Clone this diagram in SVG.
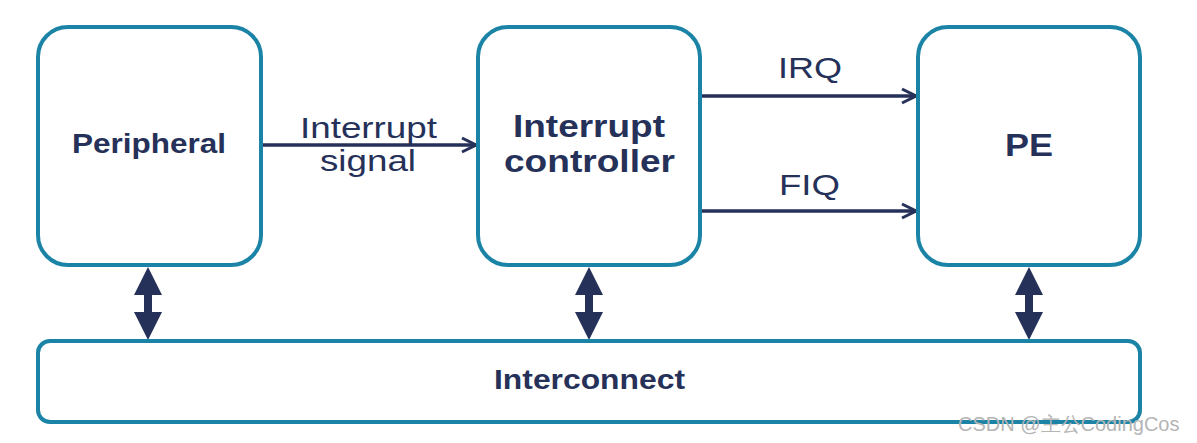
<svg xmlns="http://www.w3.org/2000/svg" width="1197" height="443" viewBox="0 0 1197 443">
<style>
.box{fill:#fff;stroke:#1b84a6;stroke-width:4}
.t{font-family:"Liberation Sans",Arial,sans-serif;fill:#263159;text-anchor:middle}
.b{font-weight:bold}
.ln{stroke:#263159;stroke-width:3.5;fill:none}
.dbl{fill:#263159}
.wm{font-family:"Liberation Sans",Arial,sans-serif;fill:#b5b5b5;font-size:20px}
</style>
<defs>
<marker id="chev" viewBox="0 0 18 18" refX="16" refY="9" markerWidth="18" markerHeight="18" markerUnits="userSpaceOnUse" orient="auto">
<path d="M2,2 L16,9 L2,16" fill="none" stroke="#263159" stroke-width="3"/>
</marker>
<path id="da" d="M0,0 L14,28 L4,28 L4,45 L14,45 L0,73 L-14,45 L-4,45 L-4,28 L-14,28 Z"/>
</defs>
<rect width="1197" height="443" fill="#fff"/>
<g id="connectors">
<line class="ln" x1="262" y1="145" x2="476" y2="145" marker-end="url(#chev)"/>
<line class="ln" x1="701" y1="96" x2="916" y2="96" marker-end="url(#chev)"/>
<line class="ln" x1="701" y1="211" x2="916" y2="211" marker-end="url(#chev)"/>
<use href="#da" class="dbl" x="148" y="267"/>
<use href="#da" class="dbl" x="589" y="267"/>
<use href="#da" class="dbl" x="1029" y="267"/>
<text class="t" x="368.5" y="138" font-size="29" textLength="137" lengthAdjust="spacingAndGlyphs">Interrupt</text>
<text class="t" x="368" y="171" font-size="29" textLength="96" lengthAdjust="spacingAndGlyphs">signal</text>
<text class="t" x="810" y="78" font-size="29" textLength="64" lengthAdjust="spacingAndGlyphs">IRQ</text>
<text class="t" x="809.5" y="195" font-size="29" textLength="61" lengthAdjust="spacingAndGlyphs">FIQ</text>
</g>
<g id="peripheral">
<rect class="box" x="38" y="27" width="223" height="238" rx="30"/>
<text class="t b" x="149" y="153" font-size="28" textLength="154" lengthAdjust="spacingAndGlyphs">Peripheral</text>
</g>
<g id="controller">
<rect class="box" x="478" y="27" width="222" height="238" rx="30"/>
<text class="t b" x="589" y="137" font-size="31" textLength="152" lengthAdjust="spacingAndGlyphs">Interrupt</text>
<text class="t b" x="589.5" y="172" font-size="31" textLength="171" lengthAdjust="spacingAndGlyphs">controller</text>
</g>
<g id="pe">
<rect class="box" x="918" y="27" width="222" height="238" rx="30"/>
<text class="t b" x="1029" y="156" font-size="31" textLength="48" lengthAdjust="spacingAndGlyphs">PE</text>
</g>
<g id="interconnect">
<rect class="box" x="38" y="341" width="1102" height="81" rx="12"/>
<text class="t b" x="589.5" y="389" font-size="27" textLength="191" lengthAdjust="spacingAndGlyphs">Interconnect</text>
</g>
<text class="wm" x="958" y="431">CSDN @主公CodingCos</text>
</svg>
